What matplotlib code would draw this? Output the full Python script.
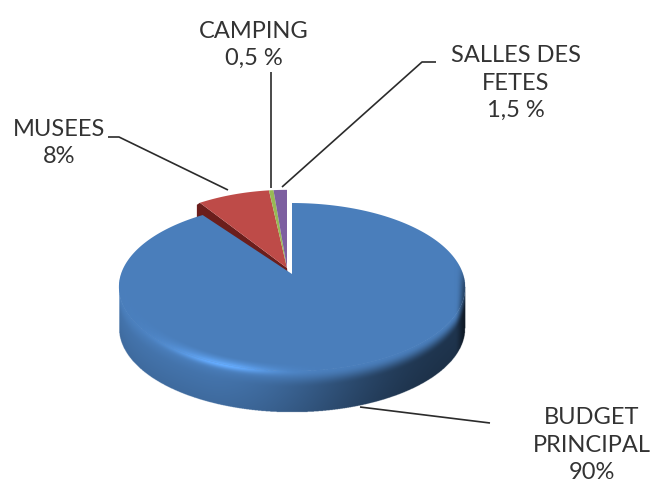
import matplotlib
matplotlib.use("Agg")
import matplotlib.pyplot as plt
from matplotlib.patches import Polygon
import numpy as np

# parts du budget, dans le sens horaire depuis le haut
shares = [90, 8, 0.5, 1.5]
slice_colors = ["#4A7EBB", "#BE4B48", "#98B954", "#7D5FA0"]
labels = ["BUDGET\nPRINCIPAL\n90%", "MUSEES\n8%", "CAMPING\n0,5 %", "SALLES DES\nFETES\n1,5 %"]
label_pos = [(592, 445), (59, 143), (254, 45), (516, 83)]
leaders = [
    [(360, 407), (490, 423)],
    [(108, 137), (119, 137), (228, 190)],
    [(271, 72), (271, 188)],
    [(436, 62), (422, 62), (282, 187)],
]

# perspective of the disc
CX, CY, RX, RY = 292, 287, 173, 84
THICK = 41


def project(theta, apex, a, b, rx):
    u = np.sin(theta)
    v = -np.cos(theta)
    den = 1 - b * v
    return apex[0] + rx * u / den, apex[1] + a * v / den


def wedge(start, stop, apex, a, b=0.155, rx=171):
    th = np.linspace(start, stop, 200) / 100 * 2 * np.pi
    x, y = project(th, apex, a, b, rx)
    return np.vstack([[apex], np.column_stack([x, y])])


def smooth(lo, hi, x):
    t = np.clip((x - lo) / (hi - lo), 0, 1)
    return t * t * (3 - 2 * t)


def light(a, s):
    dark = (0.96 - 0.52 * smooth(-0.5, 0.9, a)) * (1 - 0.12 * s)
    mix = smooth(0, 0.4, s)
    base = 1.0 * (1 - mix) + dark * mix
    hi = 0.38 * np.exp(-((a + 0.4) / 0.3) ** 2) * np.exp(-(s / 0.1) ** 2)
    edge = 1 - 0.5 * smooth(0.94, 1.0, a)
    return (base + hi) * edge


def shade_images():
    xs = np.arange(110, 475, 1 / 3)
    ys = np.arange(250, 420, 1 / 3)
    X, Y = np.meshgrid(xs, ys)
    a = (X - CX) / RX
    e = np.sqrt(np.clip(1 - a ** 2, 0, 1))
    d = Y - (CY + RY * e)
    s = np.clip(d / THICK, 0, 1)
    inside = (np.abs(a) < 1) & (d >= -0.5) & (d <= THICK) & (Y >= CY)
    blue = np.array([74, 126, 187]) / 255
    L = light(a, s)
    side = np.clip(L[..., None] * blue, 0, 1)
    side = np.dstack([side, inside.astype(float)])

    # rim of the top face
    r = np.sqrt(a ** 2 + ((Y - CY) / RY) ** 2)
    t = np.clip((r - 0.9) / 0.1, 0, 1)
    L0 = light(a, 0 * a)
    rim = np.clip(L0[..., None] * blue, 0, 1)
    rim = np.dstack([rim, t ** 1.5 * (r < 1) * smooth(CY - 30, CY + 5, Y)])
    ext = (xs[0], xs[-1], ys[-1], ys[0])
    return side, rim, ext


fig = plt.figure(figsize=(6.59, 4.86), dpi=100)
ax = fig.add_axes([0, 0, 1, 1])

edges = np.cumsum([0] + shares)

# slices pulled out at the back
pulled = (287, 268)
a_pulled = 93
red = wedge(edges[1], edges[2], pulled, a_pulled, b=0.19)
# cut face under the red slice
ax.add_patch(Polygon([red[0], red[1], red[1] + [-3, 2], red[1] + [-3, 20], red[0] + [2, 20]],
                     fc="#6B1E1C", ec="none", zorder=1))
for i in (1, 2, 3):
    pts = wedge(edges[i], edges[i + 1], pulled, a_pulled, b=0.19)
    ax.add_patch(Polygon(pts, fc=slice_colors[i], ec="none", zorder=2))

# side and top of the big slice
side, rim, ext = shade_images()
ax.imshow(side, extent=ext, aspect="auto", zorder=3)
blue_pts = wedge(edges[0], edges[1], (292, 274), 82)
ax.add_patch(Polygon(blue_pts, fc=slice_colors[0], ec="none", zorder=4))
ax.imshow(rim, extent=ext, aspect="auto", zorder=5)

for pts in leaders:
    xs, ys = zip(*pts)
    ax.plot(xs, ys, color="#2b2b2b", lw=1.2, zorder=6, solid_capstyle="butt")

for txt, pos in zip(labels, label_pos):
    ax.text(pos[0], pos[1], txt, ha="center", va="center", family="Lato",
            fontsize=17, color="#333333", linespacing=1.38, zorder=7)

ax.set_xlim(0, 659)
ax.set_ylim(486, 0)
ax.axis("off")
fig.savefig("out.png", dpi=100, facecolor="white")
